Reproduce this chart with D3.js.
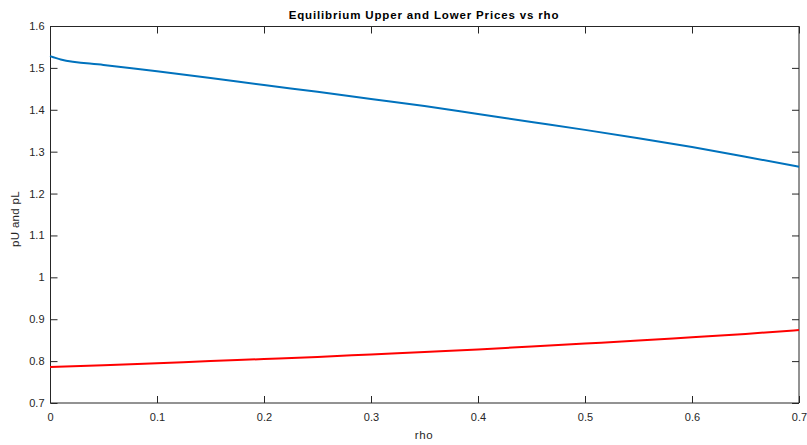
<!DOCTYPE html>
<html>
<head>
<meta charset="utf-8">
<script src="https://cdn.jsdelivr.net/npm/d3@7"></script>
<style>
  html, body { margin: 0; padding: 0; background: #fff; }
  svg text { font-family: "Liberation Sans", Arial, Helvetica, sans-serif; fill: #262626; }
</style>
</head>
<body>
<svg id="chart" width="807" height="445"></svg>
<script>
// rho grid and equilibrium prices
const rhoU = [0, 0.01, 0.05, 0.1, 0.15, 0.2, 0.25, 0.3, 0.35, 0.4, 0.45, 0.5, 0.55, 0.6, 0.65, 0.7];
const pU   = [1.528, 1.520, 1.507, 1.492, 1.476, 1.459, 1.443, 1.426, 1.409, 1.390, 1.371, 1.352, 1.332, 1.311, 1.288, 1.264];
const rhoL = [0, 0.05, 0.1, 0.15, 0.2, 0.25, 0.3, 0.35, 0.4, 0.45, 0.5, 0.55, 0.6, 0.65, 0.7];
const pL   = [0.786, 0.790, 0.795, 0.800, 0.805, 0.810, 0.816, 0.822, 0.828, 0.835, 0.842, 0.849, 0.857, 0.865, 0.874];

const xTicks = [0, 0.1, 0.2, 0.3, 0.4, 0.5, 0.6, 0.7];
const yTicks = [0.7, 0.8, 0.9, 1, 1.1, 1.2, 1.3, 1.4, 1.5, 1.6];

const titleText = "Equilibrium Upper and Lower Prices vs rho";
const xLabel = "rho";
const yLabel = "pU and pL";

const plotLeft = 50, plotRight = 799, plotTop = 26, plotBottom = 403;
const svg = d3.select("#chart");

const x = d3.scaleLinear().domain([0, 0.7]).range([plotLeft, plotRight]);
const y = d3.scaleLinear().domain([0.7, 1.6]).range([plotBottom, plotTop]);

const tickLen = 7;
const axisColor = "#262626";
const fmt = d => String(+d.toFixed(1));

// bottom axis (ticks pointing into the plot)
const gx = svg.append("g").attr("transform", `translate(0,${plotBottom})`)
  .call(d3.axisBottom(x).tickValues(xTicks).tickSizeInner(-tickLen).tickSizeOuter(0)
    .tickPadding(10).tickFormat(fmt));
// top axis mirror
const gxt = svg.append("g").attr("transform", `translate(0,${plotTop + 0.5})`)
  .call(d3.axisTop(x).tickValues(xTicks).tickSizeInner(-tickLen).tickSizeOuter(0).tickFormat(""));
// left axis
const gy = svg.append("g").attr("transform", `translate(${plotLeft + 0.5},0)`)
  .call(d3.axisLeft(y).tickValues(yTicks).tickSizeInner(-tickLen).tickSizeOuter(0)
    .tickPadding(6).tickFormat(fmt));
// right axis mirror
const gyr = svg.append("g").attr("transform", `translate(${plotRight},0)`)
  .call(d3.axisRight(y).tickValues(yTicks).tickSizeInner(-tickLen).tickSizeOuter(0).tickFormat(""));

[gx, gxt, gy, gyr].forEach(g => {
  g.select(".domain").attr("stroke", axisColor).attr("stroke-width", 1);
  g.selectAll(".tick line").attr("stroke", axisColor).attr("stroke-width", 1);
  g.selectAll(".tick text").attr("font-size", 11).attr("fill", axisColor)
    .attr("font-family", "'Liberation Sans', Arial, Helvetica, sans-serif");
});
gx.select(".domain").attr("d", `M${plotLeft},0H${plotRight}`);
gxt.select(".domain").attr("d", `M${plotLeft},0H${plotRight}`);
gy.select(".domain").attr("d", `M0,${plotTop}V${plotBottom}`);
gyr.select(".domain").attr("d", `M0,${plotTop}V${plotBottom}`);

// series
const line = d3.line().x(d => x(d[0])).y(d => y(d[1])).curve(d3.curveMonotoneX);
svg.append("path")
  .datum(rhoU.map((r, i) => [r, pU[i]]))
  .attr("d", line).attr("fill", "none").attr("stroke", "#0072BD").attr("stroke-width", 2);
svg.append("path")
  .datum(rhoL.map((r, i) => [r, pL[i]]))
  .attr("d", line).attr("fill", "none").attr("stroke", "#FF0000").attr("stroke-width", 2);

// title and axis labels
svg.append("text").attr("x", 424).attr("y", 19)
  .attr("text-anchor", "middle").attr("font-size", 11.5).attr("font-weight", "bold")
  .attr("letter-spacing", 0.85).style("fill", "#000").text(titleText);
svg.append("text").attr("x", 424).attr("y", 439)
  .attr("text-anchor", "middle").attr("font-size", 11.5).attr("letter-spacing", 0.6).text(xLabel);
svg.append("text")
  .attr("transform", `translate(19,219) rotate(-90)`)
  .attr("text-anchor", "middle").attr("font-size", 11.5).attr("letter-spacing", 0.3).text(yLabel);
</script>
</body>
</html>
